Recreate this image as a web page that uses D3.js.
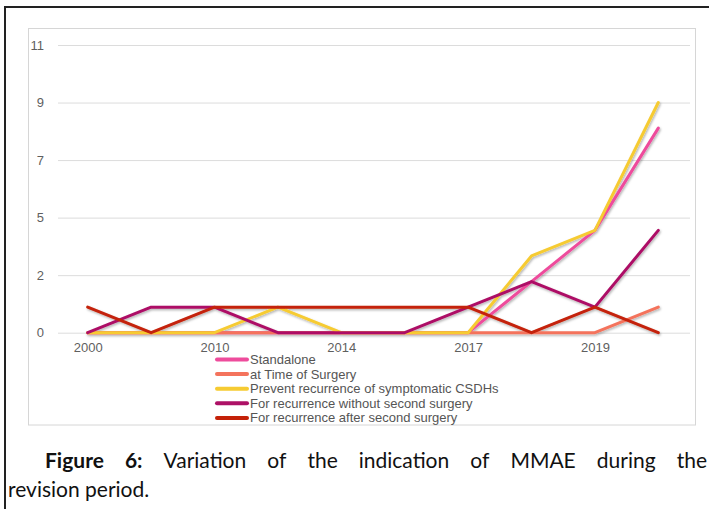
<!DOCTYPE html>
<html>
<head>
<meta charset="utf-8">
<script src="https://cdn.jsdelivr.net/npm/d3@7"></script>
<style>
  html, body { margin: 0; padding: 0; background: #fff; }
  svg { display: block; }
</style>
</head>
<body>
<script>
// ---- data ----
const years = ["2000", "2008", "2010", "2012", "2014", "2016", "2017", "2018", "2019", "2020"];
const xTickYears = ["2000", "2010", "2014", "2017", "2019"];
const yTickValues = [0, 2.25, 4.5, 6.75, 9, 11.25];
const yTickLabels = ["0", "2", "5", "7", "9", "11"];

const seriesNames = [
  "Standalone",
  "at Time of Surgery",
  "Prevent recurrence of symptomatic CSDHs",
  "For recurrence without second surgery",
  "For recurrence after second surgery"
];
const standalone      = [0, 0, 0, 0, 0, 0, 0, 2, 4, 8];
const atTimeOfSurgery = [0, 0, 0, 0, 0, 0, 0, 0, 0, 1];
const preventRecur    = [0, 0, 0, 1, 0, 0, 0, 3, 4, 9];
const recurNoSecond   = [0, 1, 1, 0, 0, 0, 1, 2, 1, 4];
const recurAfterSecond= [1, 0, 1, 1, 1, 1, 1, 0, 1, 0];
const seriesValues = [standalone, atTimeOfSurgery, preventRecur, recurNoSecond, recurAfterSecond];
const seriesColors = ["#ee4c9c", "#f4735c", "#f6cb32", "#ad1166", "#c42108"];

const captionLine1 = [
  { t: "Figure", b: true }, { t: "6:", b: true }, { t: "Variation" }, { t: "of" }, { t: "the" },
  { t: "indication" }, { t: "of" }, { t: "MMAE" }, { t: "during" }, { t: "the" }
];
const captionLine2 = "revision period.";

// ---- drawing ----
const W = 709, H = 509;
const svg = d3.select("body").append("svg").attr("width", W).attr("height", H);

const defs = svg.append("defs");
const f = defs.append("filter").attr("id", "shadow")
  .attr("x", "-10%").attr("y", "-10%").attr("width", "130%").attr("height", "130%");
f.append("feDropShadow").attr("dx", 1).attr("dy", 1.5).attr("stdDeviation", 1)
  .attr("flood-color", "#000").attr("flood-opacity", 0.3);

// outer figure border
svg.append("path").attr("d", `M5,${H} L5,7 L${W},7`)
  .attr("fill", "none").attr("stroke", "#222").attr("stroke-width", 2);

// chart box
svg.append("rect").attr("x", 28.5).attr("y", 28.5).attr("width", 667).attr("height", 396.5)
  .attr("fill", "#fff").attr("stroke", "#d6d6d6").attr("stroke-width", 1);

const x = d3.scalePoint().domain(years).range([56, 690]).padding(0.5);
const y = d3.scaleLinear().domain([0, 11.25]).range([332.7, 45]);

// gridlines + y labels
const yAxis = d3.axisLeft(y).tickValues(yTickValues)
  .tickFormat((d, i) => yTickLabels[i]).tickSize(-(690 - 58)).tickPadding(14);
const gy = svg.append("g").attr("transform", "translate(58,0)").call(yAxis);
gy.select(".domain").remove();
gy.selectAll(".tick line").attr("stroke", "#dcdcdc").attr("stroke-width", 1);
gy.selectAll(".tick text").attr("fill", "#5f5f5f")
  .style("font-family", "Liberation Sans, Arial, sans-serif").style("font-size", "13px");

// x axis labels
const xAxis = d3.axisBottom(x).tickValues(xTickYears).tickSize(0).tickPadding(10);
const gx = svg.append("g").attr("transform", `translate(0,${y(0)})`).call(xAxis);
gx.select(".domain").remove();
gx.selectAll(".tick text").attr("fill", "#5f5f5f")
  .style("font-family", "Liberation Sans, Arial, sans-serif").style("font-size", "13px");

// lines
const line = d3.line().x((d, i) => x(years[i])).y(d => y(d));
svg.append("g").attr("filter", "url(#shadow)")
  .selectAll("path").data(seriesValues).join("path")
  .attr("d", d => line(d))
  .attr("fill", "none")
  .attr("stroke", (d, i) => seriesColors[i])
  .attr("stroke-width", 3)
  .attr("stroke-linejoin", "round")
  .attr("stroke-linecap", "round");

// legend
const legend = svg.append("g").attr("transform", "translate(215,359.5)");
const li = legend.selectAll("g").data(seriesNames).join("g")
  .attr("transform", (d, i) => `translate(0,${i * 14.6})`);
li.append("line").attr("x1", 2).attr("x2", 32).attr("y1", 0).attr("y2", 0)
  .attr("stroke", (d, i) => seriesColors[i]).attr("stroke-width", 4).attr("stroke-linecap", "round");
li.append("text").attr("x", 35).attr("y", 0).attr("dy", "0.35em")
  .attr("fill", "#555")
  .style("font-family", "Liberation Sans, Arial, sans-serif").style("font-size", "13px")
  .text(d => d);

// caption (justified first line, indented)
const capFont = "Lato, 'Open Sans', sans-serif";
const cap = svg.append("text").attr("y", 468).attr("fill", "#111")
  .style("font-family", capFont).style("font-size", "21px").style("white-space", "pre");
const spans = cap.selectAll("tspan").data(captionLine1).join("tspan")
  .style("font-weight", d => d.b ? "bold" : "normal")
  .text((d, i) => d.t + (i < captionLine1.length - 1 ? " " : ""));
// measure word widths (without trailing space) then justify between 45 and 707
const widths = captionLine1.map(d => {
  const t = svg.append("text").style("font-family", capFont).style("font-size", "21px")
    .style("font-weight", d.b ? "bold" : "normal").text(d.t);
  const w = t.node().getComputedTextLength(); t.remove(); return w;
});
const startX = 45, endX = 707;
const gap = (endX - startX - d3.sum(widths)) / (captionLine1.length - 1);
let cx = startX;
spans.each(function(d, i) { d3.select(this).attr("x", cx); cx += widths[i] + gap; });

svg.append("text").attr("x", 8).attr("y", 497).attr("fill", "#111")
  .style("font-family", capFont).style("font-size", "21px").text(captionLine2);
</script>
</body>
</html>
